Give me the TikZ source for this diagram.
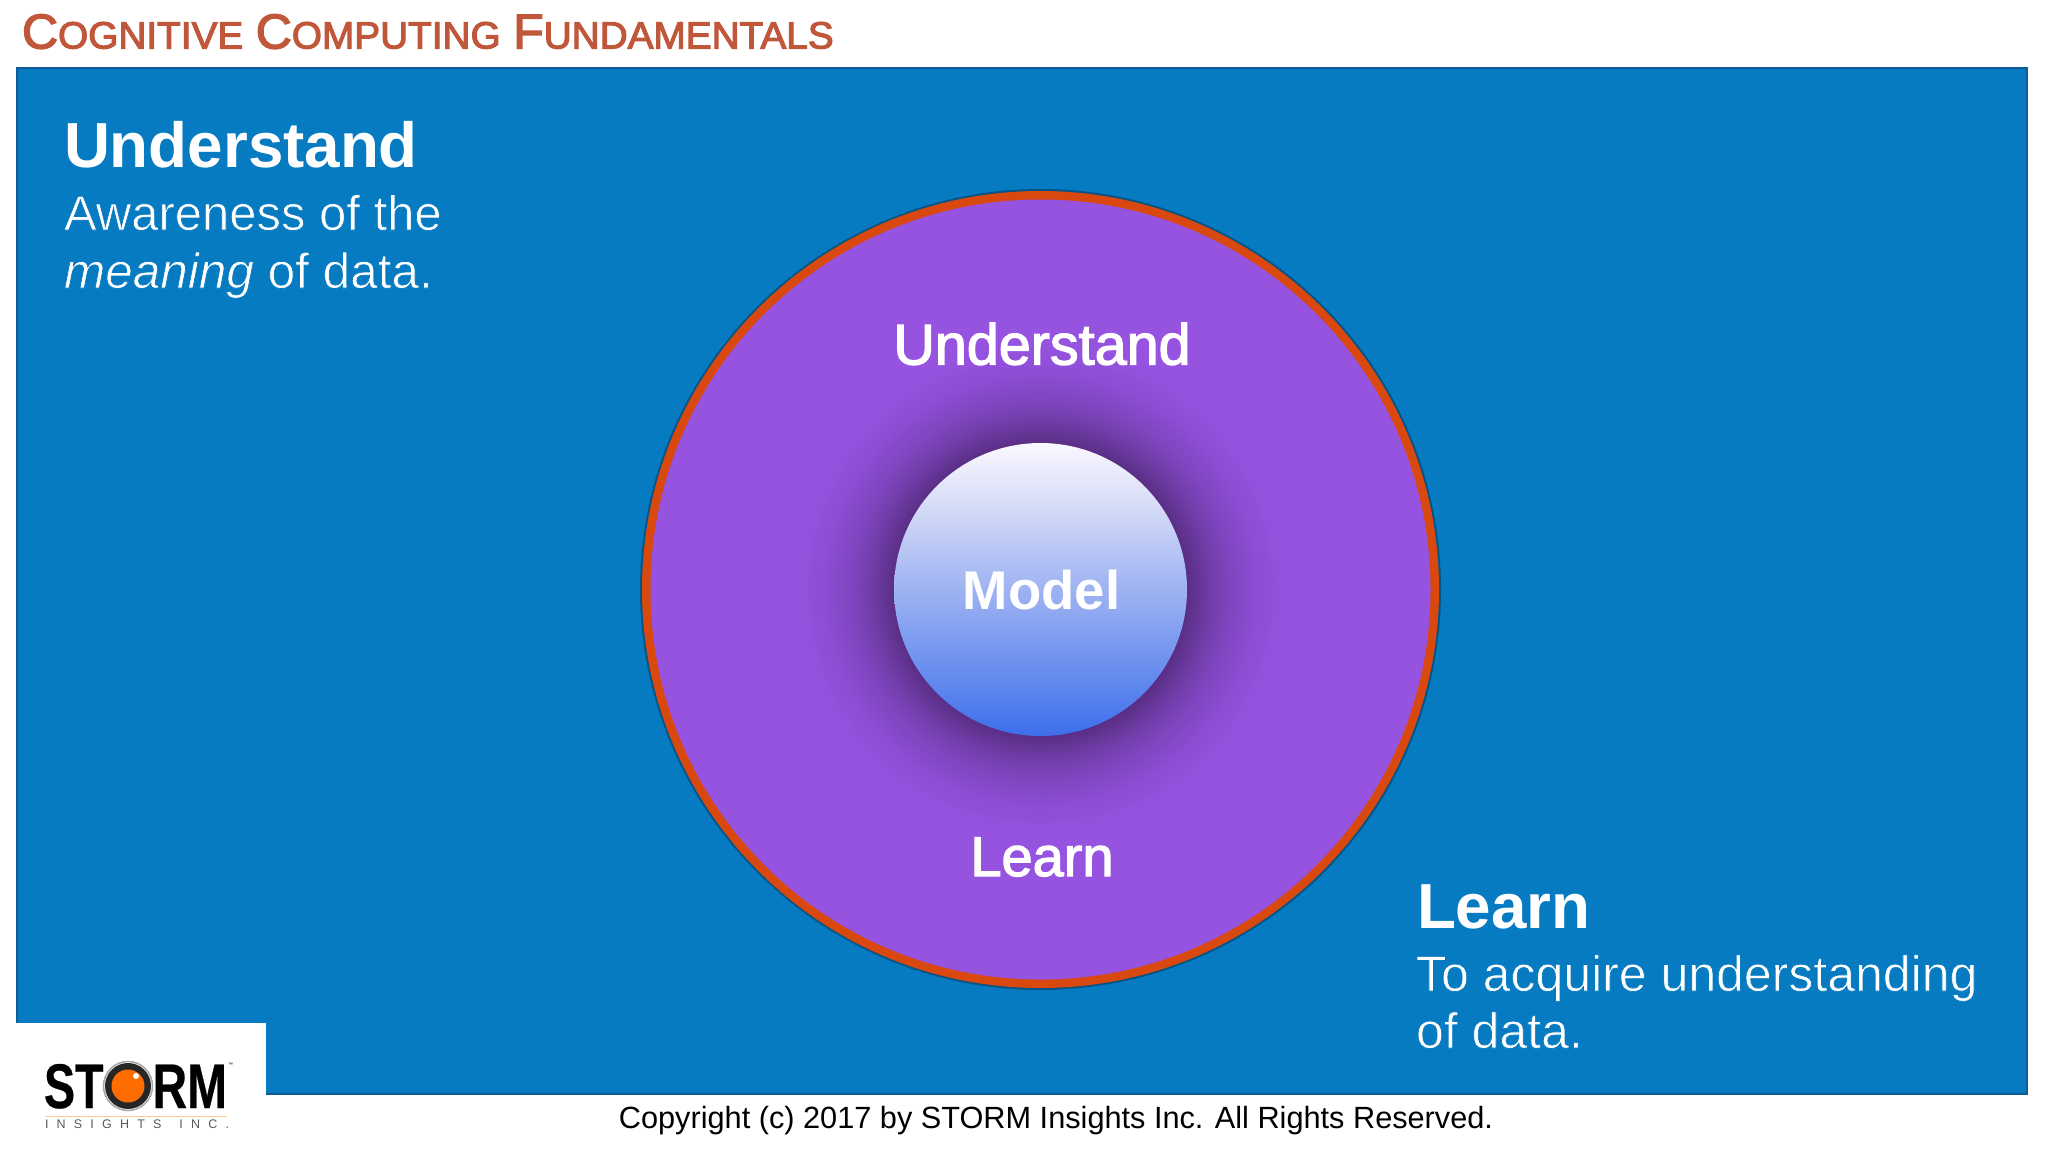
\documentclass[tikz,border=0pt]{standalone}
\usepackage{fontspec}
\setmainfont{Liberation Sans}
\newfontfamily\medfont[FakeBold=2.2]{Liberation Sans}
\newfontfamily\titlefont[FakeBold=2.8]{Liberation Sans}
\newfontfamily\heavyfont[BoldFont={Liberation Sans Bold},FakeBold=0.5]{Liberation Sans Bold}
\definecolor{panelblue}{HTML}{067BC2}
\definecolor{paneledge}{HTML}{0F5C96}
\definecolor{ringorange}{HTML}{D9480F}
\definecolor{discpurple}{HTML}{9653E0}
\definecolor{titlered}{HTML}{C0563A}
\pgfdeclareradialshading{discglow}{\pgfpointorigin}{
  rgb(0bp)=(0.35,0.18,0.52);
  rgb(14.9bp)=(0.35,0.18,0.52);
  rgb(17.35bp)=(0.44,0.24,0.66);
  rgb(19.4bp)=(0.50,0.27,0.75);
  rgb(21.95bp)=(0.55,0.30,0.83);
  rgb(25bp)=(0.588,0.325,0.878);
  rgb(50bp)=(0.588,0.325,0.878)}
\pgfdeclareverticalshading{modelfade}{100bp}{
  rgb(0bp)=(0.24,0.43,0.92);
  rgb(25bp)=(0.24,0.43,0.92);
  rgb(31bp)=(0.33,0.50,0.93);
  rgb(50bp)=(0.62,0.70,0.95);
  rgb(65bp)=(0.85,0.87,0.97);
  rgb(75bp)=(0.98,0.97,1);
  rgb(100bp)=(0.98,0.97,1)}
\tikzset{
  txt/.style={inner sep=0pt,outer sep=0pt,anchor=base west,text=white},
  ctr/.style={inner sep=0pt,outer sep=0pt,anchor=base,text=white},
}
\newcommand{\headsize}{\fontsize{63.7}{63.7}\selectfont\bfseries}
\newcommand{\bigC}[1]{{\fontsize{49}{49}\selectfont #1}}
\newcommand{\smC}[1]{{\fontsize{38}{38}\selectfont #1}}
\newcommand{\thinblue}[1]{\special{pdf:code q 2 Tr 0.7 w 0.024 0.482 0.761 RG}#1\special{pdf:code Q}}
\begin{document}
\begin{tikzpicture}[x=1pt,y=-1pt]
\useasboundingbox (0,0) rectangle (2048,1152);
\fill[white] (0,0) rectangle (2048,1152);
\draw[fill=panelblue,draw=paneledge,line width=1.5pt] (17,68) rectangle (2027,1094);
\fill[white] (15,1023) rectangle (266,1152);
% title
\node[txt,text=titlered] (title) at (22,48.5) {\titlefont\fontsize{44}{44}\selectfont\scalebox{1.02}[1]{\bigC{C}\smC{OGNITIVE} \bigC{C}\smC{OMPUTING} \bigC{F}\smC{UNDAMENTALS}}};
% concentric disc
\fill[black,opacity=.3] (1040.5,589.5) circle (400.5);
\fill[ringorange] (1040.5,589.5) circle (398.5);
\fill[discpurple] (1040.5,589.5) circle (390);
\shade[shading=discglow] (1040.5,589.5) circle (245);
\shade[shading=modelfade] (1040.5,589.5) circle (146.5);
% labels in disc
\node[ctr] (und) at (1042,364.5) {\medfont\fontsize{57.5}{57.5}\selectfont Understand};
\node[ctr] (mod) at (1041.5,609) {\fontsize{54.5}{54.5}\selectfont\bfseries Model};
\node[ctr] (lrn) at (1042,876) {\medfont\fontsize{56}{56}\selectfont Learn};
% side texts
\node[txt] (h1) at (64,167) {\headsize Understand};
\node[txt] (s1) at (64,230) {\fontsize{49}{49}\selectfont\thinblue{Awareness of the}};
\node[txt] (s2) at (64,288) {\fontsize{49.5}{49.5}\selectfont\thinblue{\itshape meaning\/ \upshape of data.}};
\node[txt] (h2) at (1417,928) {\headsize Learn};
\node[txt] (s3) at (1416,991) {\fontsize{50}{50}\selectfont\thinblue{To acquire understanding}};
\node[txt] (s4) at (1416,1048) {\fontsize{50}{50}\selectfont\thinblue{of data.}};
% copyright
\node[ctr,text=black] (copy) at (1056,1128) {\fontsize{30.7}{30.7}\selectfont Copyright (c) 2017 by STORM Insights Inc. All Rights Reserved.};
% logo
\node[txt,text=black] (logo) at (44,1108) {\heavyfont\fontsize{63}{63}\selectfont\scalebox{.74}[1]{ST}\scalebox{1}[1]{O}\scalebox{.76}[1]{RM}};
\fill[white] (128,1086) circle (26);
\draw[gray!70,line width=1.5pt] (128,1086) circle (24.5);
\fill[black!85] (128,1086) circle (23);
\fill[orange!85!red] (128,1086) circle (16.5);
\fill[white] (136,1076) circle (3);
\node[txt,text=black,anchor=base west] (tm) at (228,1066) {\fontsize{5}{5}\selectfont ™};
\draw[orange!40,line width=1pt] (45,1116) -- (227,1116);
\node[txt,text=black!65] (ins) at (45,1128) {\fontsize{12.5}{12.5}\selectfont I\hspace{8.2pt}N\hspace{8.2pt}S\hspace{8.2pt}I\hspace{8.2pt}G\hspace{8.2pt}H\hspace{8.2pt}T\hspace{8.2pt}S\hspace{18pt}I\hspace{8.2pt}N\hspace{8.2pt}C\hspace{8.2pt}.};
\end{tikzpicture}
\end{document}
